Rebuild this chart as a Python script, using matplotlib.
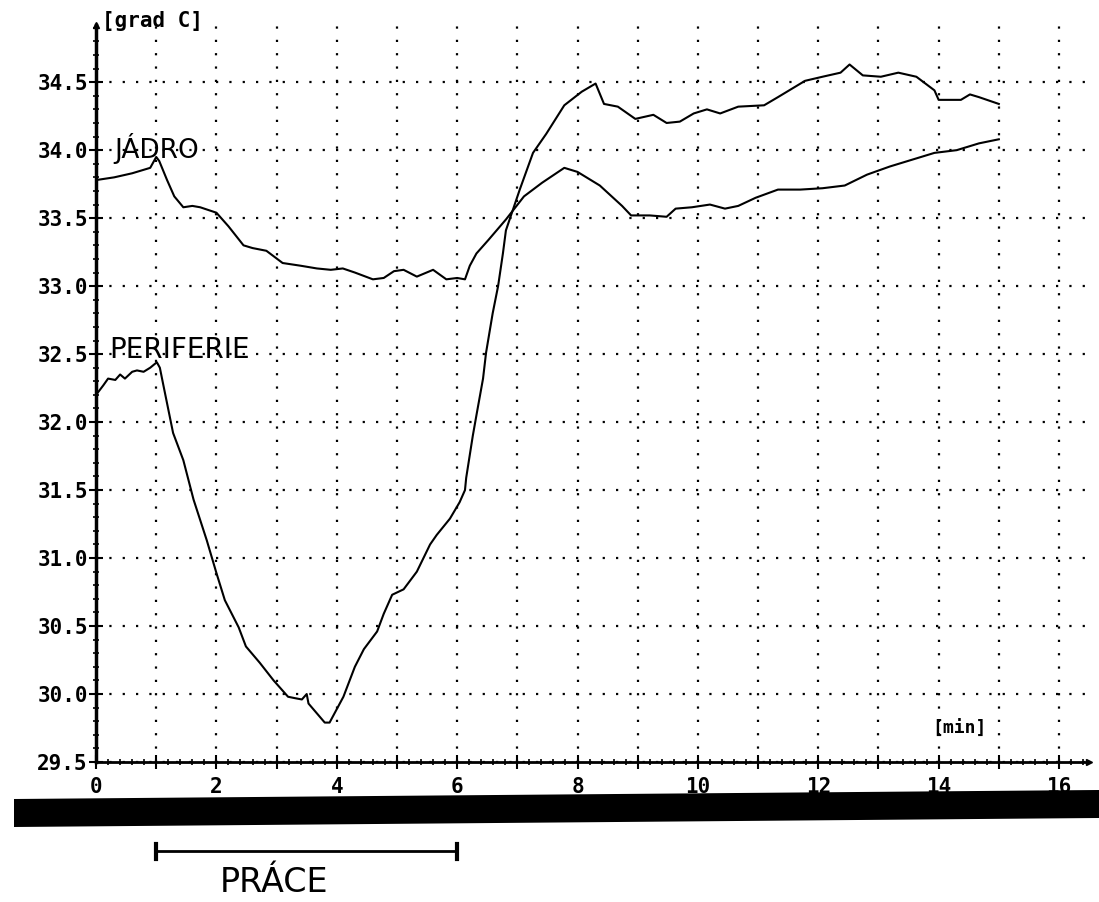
import matplotlib.pyplot as plt
import matplotlib.transforms as mtransforms
from matplotlib.patches import Polygon
from matplotlib.ticker import MultipleLocator, FixedLocator, FuncFormatter

# Temperature traces
# core temperature ("JADRO")
core_t = [0.0, 0.3, 0.6, 0.9, 1.0, 1.05, 1.18, 1.3, 1.45, 1.6, 1.73, 2.0, 2.2, 2.45,
          2.6, 2.83, 3.1, 3.4, 3.67, 3.9, 4.1, 4.3, 4.6, 4.78, 4.95, 5.11, 5.33, 5.6,
          5.82, 6.0, 6.13, 6.21, 6.32, 6.52, 6.81, 7.11, 7.41, 7.78, 8.0, 8.37, 8.74,
          8.89, 9.2, 9.48, 9.63, 9.9, 10.2, 10.45, 10.67, 10.96, 11.33, 11.7, 12.07,
          12.44, 12.81, 13.19, 13.56, 13.93, 14.3, 14.67, 15.0]
core_temp = [33.78, 33.80, 33.83, 33.87, 33.95, 33.92, 33.78, 33.66, 33.58, 33.59, 33.58,
             33.54, 33.44, 33.30, 33.28, 33.26, 33.17, 33.15, 33.13, 33.12, 33.13, 33.10,
             33.05, 33.06, 33.11, 33.12, 33.07, 33.12, 33.05, 33.06, 33.05, 33.15, 33.24,
             33.34, 33.49, 33.66, 33.76, 33.87, 33.84, 33.74, 33.59, 33.52, 33.52, 33.51,
             33.57, 33.58, 33.60, 33.57, 33.59, 33.65, 33.71, 33.71, 33.72, 33.74, 33.82,
             33.88, 33.93, 33.98, 34.00, 34.05, 34.08]

# periphery temperature ("PERIFERIE")
peri_t = [0.0, 0.12, 0.2, 0.32, 0.4, 0.48, 0.6, 0.68, 0.79, 0.9, 1.01, 1.06, 1.11,
          1.28, 1.45, 1.62, 1.84, 2.0, 2.14, 2.37, 2.49, 2.72, 2.95, 3.19, 3.3, 3.42,
          3.5, 3.53, 3.8, 3.88, 4.11, 4.3, 4.45, 4.67, 4.78, 4.92, 5.11, 5.33, 5.55,
          5.66, 5.88, 6.04, 6.13, 6.15, 6.26, 6.32, 6.43, 6.48, 6.59, 6.68, 6.76, 6.81,
          7.04, 7.26, 7.48, 7.78, 8.07, 8.3, 8.44, 8.67, 8.96, 9.26, 9.48, 9.7, 9.93,
          10.15, 10.37, 10.67, 11.1, 11.33, 11.78, 12.07, 12.37, 12.52, 12.74, 13.04,
          13.33, 13.63, 13.93, 14.0, 14.37, 14.52, 14.67, 15.0]
peri_temp = [32.20, 32.27, 32.32, 32.31, 32.35, 32.32, 32.37, 32.38, 32.37, 32.40, 32.44,
             32.40, 32.29, 31.92, 31.72, 31.43, 31.13, 30.89, 30.69, 30.49, 30.35, 30.23,
             30.10, 29.98, 29.97, 29.96, 30.00, 29.93, 29.79, 29.79, 29.98, 30.20, 30.33,
             30.46, 30.59, 30.73, 30.77, 30.90, 31.10, 31.17, 31.29, 31.41, 31.50, 31.59,
             31.90, 32.05, 32.32, 32.51, 32.80, 33.00, 33.24, 33.41, 33.71, 33.98, 34.12,
             34.33, 34.43, 34.49, 34.34, 34.32, 34.23, 34.26, 34.20, 34.21, 34.27, 34.30,
             34.27, 34.32, 34.33, 34.39, 34.51, 34.54, 34.57, 34.63, 34.55, 34.54, 34.57,
             34.54, 34.44, 34.37, 34.37, 34.41, 34.39, 34.34]

x_major = list(range(0, 17))
y_major = [29.5, 30.0, 30.5, 31.0, 31.5, 32.0, 32.5, 33.0, 33.5, 34.0, 34.5]

mono = 'DejaVu Sans Mono'
hand = 'DejaVu Sans'

fig = plt.figure(figsize=(10.99, 9.02), dpi=100)
ax = fig.add_axes([0.0874, 0.1552, 0.9036, 0.817])

ax.plot(core_t, core_temp, color='black', lw=1.5)
ax.plot(peri_t, peri_temp, color='black', lw=1.5)

ax.set_xlim(0, 16.5)
ax.set_ylim(29.5, 34.92)

# axes look like an old plotter printout
for s in ['top', 'right']:
    ax.spines[s].set_visible(False)
ax.spines['left'].set_linewidth(2.5)
ax.spines['bottom'].set_linewidth(2.0)

ax.xaxis.set_major_locator(FixedLocator(x_major))
ax.xaxis.set_minor_locator(MultipleLocator(0.2))
ax.xaxis.set_major_formatter(FuncFormatter(lambda v, p: '%d' % v if int(v) % 2 == 0 else ''))
ax.yaxis.set_major_locator(FixedLocator(y_major))
ax.yaxis.set_minor_locator(MultipleLocator(0.1))
ax.yaxis.set_major_formatter(FuncFormatter(lambda v, p: '%.1f' % v))

ax.tick_params(which='major', direction='inout', length=10, width=1.5, color='black')
ax.tick_params(which='minor', direction='inout', length=5, width=1.2, color='black')
ax.tick_params(axis='x', which='major', pad=6)
ax.tick_params(axis='y', which='major', pad=1)
for lab in ax.get_xticklabels() + ax.get_yticklabels():
    lab.set_fontfamily(mono)
    lab.set_fontweight('bold')
    lab.set_fontsize(15)

# dotted grid
ax.grid(which='major', linestyle=(0, (1, 5)), linewidth=1.6, color='black')
ax.set_axisbelow(True)

# small arrow heads at the axis ends
ax.plot([0], [34.92], marker='^', color='black', markersize=5, clip_on=False)
ax.plot([16.5], [29.5], marker='>', color='black', markersize=5, clip_on=False)

# unit labels
ax.text(0.1, 34.95, '[grad C]', fontfamily=mono, fontweight='bold', fontsize=15,
        ha='left', va='center')
ax.text(13.9, 29.74, '[min]', fontfamily=mono, fontweight='bold', fontsize=13,
        ha='left', va='center')

# handwritten notes
ax.text(0.3, 34.01, 'JÁDRO', fontfamily=hand, fontsize=19, ha='left', va='center')
ax.text(0.22, 32.53, 'PERIFERIE', fontfamily=hand, fontsize=20, ha='left', va='center')

# black bar from the scan
fw, fh = 1099.0, 902.0
bar = [(14, 799), (1099, 790), (1099, 818), (14, 827)]
fig.patches.append(Polygon([(x / fw, 1 - y / fh) for x, y in bar], closed=True,
                           transform=fig.transFigure, facecolor='black', edgecolor='none'))

# working period bracket
trans = mtransforms.blended_transform_factory(ax.transData, ax.transAxes)
ax.plot([1.0, 6.0], [-0.121, -0.121], color='black', lw=2, transform=trans, clip_on=False)
for xe in [1.0, 6.0]:
    ax.plot([xe, xe], [-0.111, -0.131], color='black', lw=3, transform=trans, clip_on=False)
ax.text(2.95, -0.163, 'PRÁCE', fontfamily=hand, fontsize=24, ha='center', va='center',
        transform=trans)

plt.savefig('out.png', dpi=100)
